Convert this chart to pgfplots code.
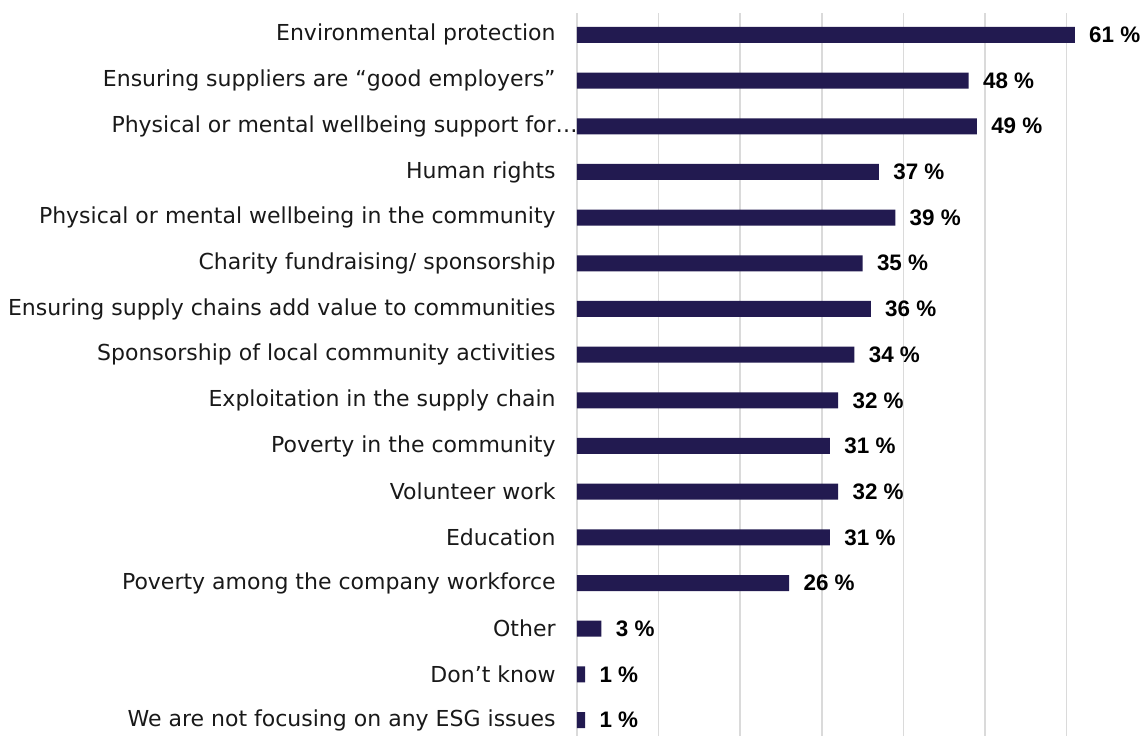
\documentclass[border=0pt]{standalone}
\usepackage{pgfplots}
\pgfplotsset{compat=1.18}
\usepackage{fontspec}
\setmainfont{Liberation Sans}
\newfontfamily\catfont{DejaVu Sans}
\definecolor{barnavy}{RGB}{34,26,80}
\definecolor{gridgray}{RGB}{218,218,218}
\begin{document}
\begin{tikzpicture}
\begin{axis}[
  scale only axis,
  width=284pt, height=361.5pt,
  xbar, bar width=8pt,
  xmin=0, xmax=69.6,
  ymin=-0.48, ymax=15.35,
  y dir=reverse,
  xtick={0,10,...,60}, xticklabels={},
  xmajorgrids, grid style={gridgray, line width=0.8pt},
  axis line style={draw=none},
  major tick length=0pt,
  ytick={0,...,15},
  yticklabels={
    Environmental protection,
    Ensuring suppliers are “good employers”,
    Physical or mental wellbeing support for\rlap{…},
    Human rights,
    Physical or mental wellbeing in the community,
    Charity fundraising/ sponsorship,
    Ensuring supply chains add value to communities,
    Sponsorship of local community activities,
    Exploitation in the supply chain,
    Poverty in the community,
    Volunteer work,
    Education,
    Poverty among the company workforce,
    Other,
    Don’t know,
    We are not focusing on any ESG issues},
  yticklabel style={font=\catfont\fontsize{11pt}{13pt}\selectfont, text=black!90, inner sep=0pt, xshift=-10.5pt, anchor=east},
  /pgf/number format/assume math mode=true,
  nodes near coords={\textbf{\pgfmathprintnumber{\pgfplotspointmeta} \%}},
  nodes near coords style={anchor=west, inner sep=0pt, xshift=7pt, font=\fontsize{11.2pt}{13pt}\selectfont, text=black},
  point meta=x,
]
\addplot[fill=barnavy, draw=none] coordinates {
  (61,0) (48,1) (49,2) (37,3) (39,4) (35,5) (36,6) (34,7)
  (32,8) (31,9) (32,10) (31,11) (26,12) (3,13) (1,14) (1,15)
};
\end{axis}
\pgfresetboundingbox
\path (current axis.south west) ++(-288.5pt,0) rectangle ++(572.5pt,368pt);
\end{tikzpicture}
\end{document}
